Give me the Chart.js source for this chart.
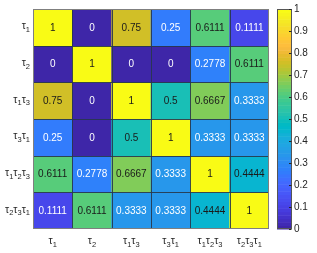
<!DOCTYPE html>
<html>
<head>
<meta charset="utf-8">
<script src="https://cdn.jsdelivr.net/npm/chart.js@4"></script>
<style>
  body { margin: 0; background: #fff; }
  canvas { display: block; }
</style>
</head>
<body>
<canvas id="heat" width="317" height="253"></canvas>
<script>
"use strict"
// labels, "_" means next digit is a subscript
const categories = ["τ_1", "τ_2", "τ_1τ_3", "τ_3τ_1", "τ_1τ_2τ_3", "τ_2τ_3τ_1"];

// matrix rows (top to bottom)
const rowT1 = [1, 0, 0.75, 0.25, 0.6111, 0.1111];
const rowT2 = [0, 1, 0, 0, 0.2778, 0.6111];
const rowT1T3 = [0.75, 0, 1, 0.5, 0.6667, 0.3333];
const rowT3T1 = [0.25, 0, 0.5, 1, 0.3333, 0.3333];
const rowT1T2T3 = [0.6111, 0.2778, 0.6667, 0.3333, 1, 0.4444];
const rowT2T3T1 = [0.1111, 0.6111, 0.3333, 0.3333, 0.4444, 1];
const rows = [rowT1, rowT2, rowT1T3, rowT3T1, rowT1T2T3, rowT2T3T1];

// colorbar ticks
const cbTicks = [0, 0.1, 0.2, 0.3, 0.4, 0.5, 0.6, 0.7, 0.8, 0.9, 1];
const cbTickLabels = ["0", "0.1", "0.2", "0.3", "0.4", "0.5", "0.6", "0.7", "0.8", "0.9", "1"];

// parula, 64 entries
const parula = [
[0.2422,0.1504,0.6603],[0.2504,0.1650,0.7076],[0.2578,0.1818,0.7511],[0.2647,0.1978,0.7952],
[0.2706,0.2147,0.8364],[0.2751,0.2342,0.8710],[0.2783,0.2559,0.8991],[0.2803,0.2782,0.9221],
[0.2813,0.3006,0.9414],[0.2810,0.3228,0.9579],[0.2795,0.3447,0.9717],[0.2760,0.3667,0.9829],
[0.2699,0.3892,0.9906],[0.2602,0.4123,0.9952],[0.2440,0.4358,0.9988],[0.2206,0.4603,0.9973],
[0.1963,0.4847,0.9892],[0.1834,0.5074,0.9798],[0.1786,0.5289,0.9682],[0.1764,0.5499,0.9520],
[0.1687,0.5703,0.9359],[0.1540,0.5902,0.9218],[0.1460,0.6091,0.9079],[0.1380,0.6276,0.8973],
[0.1248,0.6459,0.8883],[0.1113,0.6635,0.8763],[0.0952,0.6798,0.8598],[0.0689,0.6948,0.8394],
[0.0297,0.7082,0.8163],[0.0036,0.7203,0.7917],[0.0067,0.7312,0.7660],[0.0433,0.7411,0.7394],
[0.0964,0.7500,0.7120],[0.1408,0.7584,0.6842],[0.1717,0.7670,0.6554],[0.1938,0.7758,0.6251],
[0.2161,0.7843,0.5923],[0.2470,0.7918,0.5567],[0.2906,0.7973,0.5188],[0.3406,0.8008,0.4789],
[0.3909,0.8029,0.4354],[0.4456,0.8024,0.3909],[0.5044,0.7993,0.3480],[0.5616,0.7942,0.3045],
[0.6174,0.7876,0.2612],[0.6720,0.7793,0.2227],[0.7242,0.7698,0.1910],[0.7738,0.7598,0.1646],
[0.8203,0.7498,0.1535],[0.8634,0.7406,0.1596],[0.9035,0.7330,0.1774],[0.9393,0.7288,0.2100],
[0.9728,0.7298,0.2394],[0.9956,0.7434,0.2371],[0.9970,0.7659,0.2199],[0.9952,0.7893,0.2028],
[0.9892,0.8136,0.1885],[0.9786,0.8386,0.1766],[0.9676,0.8639,0.1643],[0.9610,0.8890,0.1537],
[0.9597,0.9135,0.1423],[0.9628,0.9373,0.1265],[0.9691,0.9606,0.1064],[0.9769,0.9839,0.0805]
];

function rgbOf(c) {
    return "rgb(" + Math.round(c[0] * 255) + "," + Math.round(c[1] * 255) + "," + Math.round(c[2] * 255) + ")";
}
function colorFor(v) {
    let idx = Math.min(63, Math.floor(v * 64));
    return rgbOf(parula[idx]);
}

const FONT = "'Liberation Sans', Arial, sans-serif";
const TXT = "#262626";

// draw tau label with subscripts, align: "center" or "right"
function drawLabel(ctx, str, x, y, align) {
    let parts = [];
    for (let i = 0; i < str.length; i++) {
        if (str[i] == "_") { parts.push({t: str[i + 1], sub: true}); i++; }
        else parts.push({t: str[i], sub: false});
    }
    const big = "10.5px " + FONT, small = "7.5px " + FONT;
    let w = 0;
    parts.forEach(p => { ctx.font = p.sub ? small : big; p.w = ctx.measureText(p.t).width; w += p.w; });
    let cx = align == "center" ? x - w / 2 : x - w;
    ctx.textAlign = "left";
    ctx.textBaseline = "middle";
    ctx.fillStyle = TXT;
    parts.forEach(p => {
        ctx.font = p.sub ? small : big;
        ctx.fillText(p.t, cx, p.sub ? y + 3.5 : y);
        cx += p.w;
    });
}

const heatPlugin = {
    id: "heatExtras",
    afterDatasetsDraw(chart) {
        const ctx = chart.ctx;
        const x = chart.scales.x, y = chart.scales.y, yc = chart.scales.yc;
        const area = chart.chartArea;
        const cw = (area.right - area.left) / categories.length;
        ctx.save();

        // cell borders
        ctx.strokeStyle = "rgba(40,55,75,0.9)";
        ctx.lineWidth = 1;
        ctx.beginPath();
        for (let j = 1; j < categories.length; j++) {
            let px = Math.round(x.getPixelForValue(j) - cw / 2) + 0.5;
            ctx.moveTo(px, area.top); ctx.lineTo(px, area.bottom);
        }
        for (let i = 1; i < rows.length; i++) {
            let py = Math.round(y.getPixelForValue(i)) + 0.5;
            ctx.moveTo(area.left, py); ctx.lineTo(area.right, py);
        }
        ctx.stroke();
        ctx.strokeStyle = "#7f7f7f";
        ctx.strokeRect(Math.round(area.left) + 0.5, Math.round(area.top) + 0.5,
            Math.round(area.right - area.left) - 1, Math.round(area.bottom - area.top) - 1);

        // cell values
        ctx.font = "10px " + FONT;
        ctx.textAlign = "center";
        ctx.textBaseline = "middle";
        rows.forEach((row, i) => {
            row.forEach((v, j) => {
                ctx.fillStyle = v < 0.4 ? "#ffffff" : "#1a1a1a";
                ctx.fillText(String(v), x.getPixelForValue(j), y.getPixelForValue(i + 0.5) + 0.5);
            });
        });

        // axis labels
        categories.forEach((lab, k) => {
            drawLabel(ctx, lab, area.left - 3, y.getPixelForValue(k + 0.5) - 1, "right");
            drawLabel(ctx, lab, x.getPixelForValue(k), area.bottom + 12, "center");
        });

        // colorbar
        const bx = area.right + 8, bw = 14;
        for (let k = 0; k < 64; k++) {
            let y0 = yc.getPixelForValue(k / 64), y1 = yc.getPixelForValue((k + 1) / 64);
            ctx.fillStyle = rgbOf(parula[k]);
            ctx.fillRect(bx, y1, bw, y0 - y1 + 0.5);
        }
        ctx.strokeStyle = "#555555";
        ctx.strokeRect(bx + 0.5, Math.round(yc.top) + 0.5, bw, Math.round(yc.bottom - yc.top) - 1);
        ctx.strokeStyle = "#262626";
        ctx.beginPath();
        cbTicks.forEach(t => {
            let py = Math.round(yc.getPixelForValue(t)) + 0.5;
            ctx.moveTo(bx + bw - 2, py); ctx.lineTo(bx + bw + 0.5, py);
        });
        ctx.stroke();
        ctx.restore();
    }
};

const datasets = rows.map((row, i) => ({
    data: row.map(() => [i, i + 1]),
    backgroundColor: row.map(v => colorFor(v)),
    borderWidth: 0,
    grouped: false,
    barPercentage: 1,
    categoryPercentage: 1,
    yAxisID: "y"
}));

const ctx = document.getElementById("heat").getContext("2d");
new Chart(ctx, {
    type: "bar",
    data: { labels: categories, datasets: datasets },
    options: {
        responsive: false,
        animation: false,
        layout: { padding: { left: 33, top: 9, right: 0, bottom: 24 } },
        plugins: { legend: { display: false }, tooltip: { enabled: false } },
        scales: {
            x: { display: false, offset: true },
            y: { display: false, min: 0, max: rows.length, reverse: true },
            yc: {
                position: "right",
                min: 0, max: 1,
                grid: { display: false, drawTicks: false },
                border: { display: false },
                afterBuildTicks: function (scale) {
                    scale.ticks = cbTicks.map(v => ({ value: v }));
                },
                afterFit: function (scale) {
                    scale.width = 48;
                    scale.paddingTop = 0;
                    scale.paddingBottom = 0;
                },
                ticks: {
                    padding: 25,
                    color: TXT,
                    font: { family: "'Liberation Sans', Arial, sans-serif", size: 10 },
                    callback: function (value, index) { return cbTickLabels[index]; }
                }
            }
        }
    },
    plugins: [heatPlugin]
});
</script>
</body>
</html>
